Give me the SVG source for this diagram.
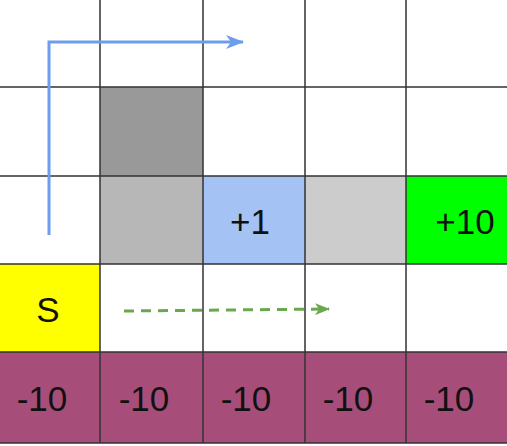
<svg xmlns="http://www.w3.org/2000/svg" width="507" height="446" viewBox="0 0 507 446">
<style>
.cell{stroke:none}
.grid{stroke:#333333;stroke-width:1.5;fill:none}
.lbl{font-family:"Liberation Sans",Arial,sans-serif;font-size:35px;fill:#111111;text-anchor:middle}
</style>
<defs>
<marker id="ab" markerUnits="userSpaceOnUse" markerWidth="20" markerHeight="14" refX="17" refY="7" orient="auto">
<path d="M0,0 L18,7 L0,14 L5,7 Z" fill="#6d9eeb"/>
</marker>
<marker id="ag" markerUnits="userSpaceOnUse" markerWidth="16" markerHeight="12" refX="14" refY="6" orient="auto">
<path d="M0,0 L15,6 L0,12 L4,6 Z" fill="#6aa84f"/>
</marker>
</defs>
<rect width="507" height="446" fill="#ffffff"/>
<g id="cell-wall-dark"><rect class="cell" x="100" y="87" width="103" height="89" fill="#999999"/></g>
<g id="cell-wall-light1"><rect class="cell" x="100" y="176" width="103" height="88" fill="#b7b7b7"/></g>
<g id="cell-plus1"><rect class="cell" x="203" y="176" width="102" height="88" fill="#a4c2f4"/><text class="lbl" x="250" y="234">+1</text></g>
<g id="cell-wall-light2"><rect class="cell" x="305" y="176" width="101" height="88" fill="#cccccc"/></g>
<g id="cell-plus10"><rect class="cell" x="406" y="176" width="101" height="88" fill="#00ff00"/><text class="lbl" x="465" y="234">+10</text></g>
<g id="cell-start"><rect class="cell" x="0" y="264" width="100" height="88" fill="#ffff00"/><text class="lbl" x="48" y="322">S</text></g>
<g id="cell-pit1"><rect class="cell" x="0" y="352" width="100" height="91" fill="#a64d79"/><text class="lbl" x="42" y="411">-10</text></g>
<g id="cell-pit2"><rect class="cell" x="100" y="352" width="103" height="91" fill="#a64d79"/><text class="lbl" x="144" y="411">-10</text></g>
<g id="cell-pit3"><rect class="cell" x="203" y="352" width="102" height="91" fill="#a64d79"/><text class="lbl" x="246" y="411">-10</text></g>
<g id="cell-pit4"><rect class="cell" x="305" y="352" width="101" height="91" fill="#a64d79"/><text class="lbl" x="348" y="411">-10</text></g>
<g id="cell-pit5"><rect class="cell" x="406" y="352" width="101" height="91" fill="#a64d79"/><text class="lbl" x="449" y="411">-10</text></g>
<g id="grid">
<path class="grid" d="M100,0 V443 M203,0 V443 M305,0 V443 M406,0 V443 M0,87 H507 M0,176 H507 M0,264 H507 M0,352 H507 M0,443 H507"/>
</g>
<g id="connectors">
<path d="M49,235 V42 H243" fill="none" stroke="#6d9eeb" stroke-width="3" marker-end="url(#ab)"/>
<path d="M124,311 L329,309" fill="none" stroke="#6aa84f" stroke-width="3" stroke-dasharray="10,7" marker-end="url(#ag)"/>
</g>
</svg>
